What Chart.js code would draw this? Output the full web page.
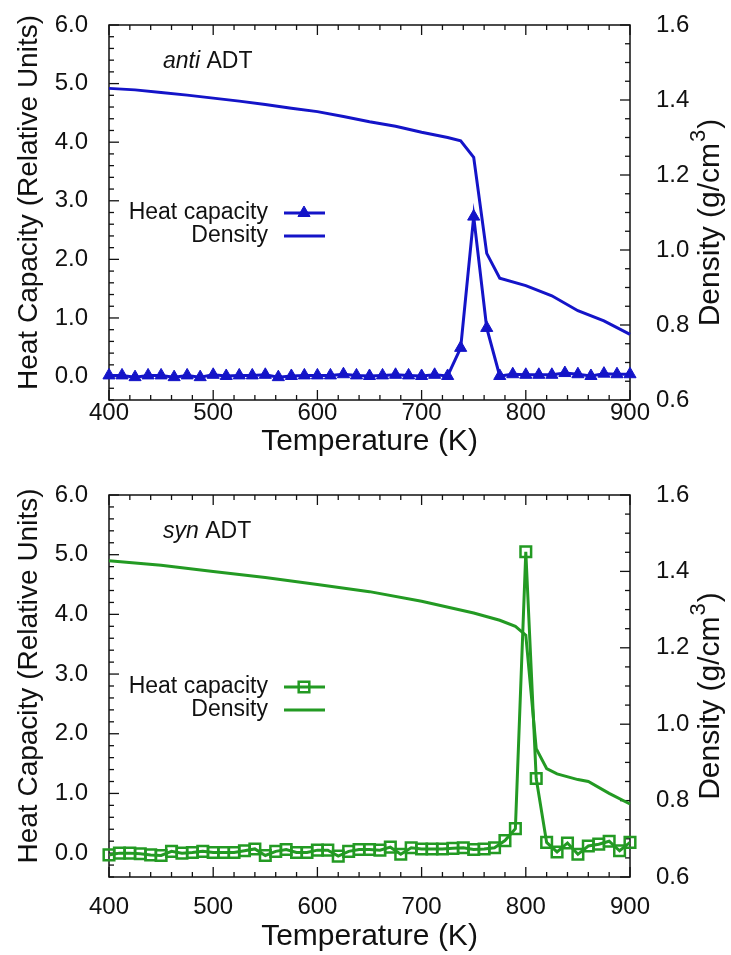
<!DOCTYPE html>
<html>
<head>
<meta charset="utf-8">
<script src="https://cdn.jsdelivr.net/npm/chart.js@4.4.1/dist/chart.umd.min.js"></script>
<style>
  html, body { margin: 0; padding: 0; background: #fff; }
  .panel { position: relative; width: 731px; }
</style>
</head>
<body>
<div class="panel" style="height:470px"><canvas id="chartAnti"></canvas></div>
<div class="panel" style="height:485px"><canvas id="chartSyn"></canvas></div>
<script>
// axis ticks
const tempTicks = [400, 500, 600, 700, 800, 900];
const heatTicks = [0, 1, 2, 3, 4, 5, 6];
const densityTicks = [0.6, 0.8, 1.0, 1.2, 1.4, 1.6];

// anti ADT
const antiTemps = [400, 412.5, 425, 437.5, 450, 462.5, 475, 487.5, 500, 512.5, 525, 537.5, 550, 562.5,
    575, 587.5, 600, 612.5, 625, 637.5, 650, 662.5, 675, 687.5, 700, 712.5, 725, 737.5, 750, 762.5,
    775, 787.5, 800, 812.5, 825, 837.5, 850, 862.5, 875, 887.5, 900];
const antiHeat = [0.02, 0.02, -0.01, 0.02, 0.02, -0.01, 0.02, -0.01, 0.03, 0.01, 0.02, 0.02, 0.03, -0.01,
    0.01, 0.02, 0.02, 0.02, 0.04, 0.02, 0.01, 0.02, 0.03, 0.02, 0.01, 0.03, 0.01, 0.49, 2.73, 0.83,
    0.01, 0.04, 0.03, 0.03, 0.03, 0.06, 0.04, 0.01, 0.05, 0.04, 0.04];
const antiDensTemps = [400, 425, 450, 475, 500, 525, 550, 575, 600, 625, 650, 675, 700, 725, 737.5,
    750, 762.5, 775, 800, 825, 850, 875, 900];
const antiDensity = [1.431, 1.427, 1.420, 1.413, 1.405, 1.397, 1.388, 1.378, 1.369, 1.356, 1.342, 1.330,
    1.314, 1.300, 1.291, 1.247, 0.991, 0.925, 0.905, 0.878, 0.838, 0.811, 0.775];

// syn ADT
const synTemps = [400, 410, 420, 430, 440, 450, 460, 470, 480, 490, 500, 510, 520, 530, 540, 550, 560,
    570, 580, 590, 600, 610, 620, 630, 640, 650, 660, 670, 680, 690, 700, 710, 720, 730, 740, 750, 760,
    770, 780, 790, 800, 810, 820, 830, 840, 850, 860, 870, 880, 890, 900];
const synHeat = [-0.03, 0.0, 0.0, -0.01, -0.03, -0.04, 0.03, 0.0, 0.01, 0.03, 0.01, 0.01, 0.01, 0.04,
    0.07, -0.04, 0.03, 0.06, 0.01, 0.01, 0.05, 0.05, -0.05, 0.03, 0.06, 0.06, 0.05, 0.10, -0.02, 0.09,
    0.07, 0.07, 0.07, 0.08, 0.09, 0.06, 0.07, 0.09, 0.21, 0.41, 5.05, 1.25, 0.18, 0.02, 0.17, -0.02,
    0.12, 0.15, 0.20, 0.04, 0.18];
const synDensTemps = [400, 450, 500, 550, 600, 650, 700, 750, 775, 790, 800, 810, 820, 830, 850, 860, 880, 900];
const synDensity = [1.428, 1.416, 1.400, 1.384, 1.366, 1.347, 1.322, 1.291, 1.272, 1.256, 1.233, 0.936,
    0.884, 0.870, 0.855, 0.850, 0.819, 0.791];

const FONT = '"Liberation Sans", Arial, Helvetica, sans-serif';
const INK = '#111';
const BLUE = '#1414c8';
const GREEN = '#239a23';

const pairs = (xs, ys) => xs.map((x, i) => ({x: x, y: ys[i]}));

// gnuplot-like frame with inward ticks on all sides
const frameTicks = {
    id: 'frameTicks',
    beforeDatasetsDraw(chart) {
        const {ctx, chartArea: a, scales} = chart;
        ctx.save();
        ctx.strokeStyle = INK;
        ctx.lineWidth = 1.5;
        ctx.strokeRect(a.left, a.top, a.right - a.left, a.bottom - a.top);
        ctx.lineWidth = 1.3;
        const line = (x1, y1, x2, y2) => {
            ctx.beginPath(); ctx.moveTo(x1, y1); ctx.lineTo(x2, y2); ctx.stroke();
        };
        for (let t = 400; t <= 900; t += 20) {
            const x = scales.x.getPixelForValue(t);
            const len = t % 100 === 0 ? 10 : 5;
            line(x, a.bottom, x, a.bottom - len);
            line(x, a.top, x, a.top + len);
        }
        for (let i = -2; i <= 30; i++) {
            const y = scales.yHeat.getPixelForValue(i / 5);
            line(a.left, y, a.left + (i % 5 === 0 ? 10 : 5), y);
        }
        for (let i = 12; i <= 32; i++) {
            const y = scales.yDen.getPixelForValue(i / 20);
            line(a.right, y, a.right - (i % 4 === 0 ? 10 : 5), y);
        }
        ctx.restore();
    },
    // both y titles read bottom-to-top, as in the original
    afterDraw(chart) {
        const {ctx, chartArea: a} = chart;
        const cy = (a.top + a.bottom) / 2;
        ctx.save();
        ctx.fillStyle = INK;
        ctx.textBaseline = 'middle';

        ctx.save();
        ctx.translate(29, cy - 10);
        ctx.rotate(-Math.PI / 2);
        ctx.textAlign = 'center';
        ctx.font = '28px ' + FONT;
        ctx.fillText('Heat Capacity (Relative Units)', 0, 0);
        ctx.restore();

        ctx.save();
        ctx.translate(711, cy + 11);
        ctx.rotate(-Math.PI / 2);
        ctx.textAlign = 'left';
        ctx.font = '30px ' + FONT;
        const w1 = ctx.measureText('Density (g/cm').width;
        const w3 = ctx.measureText(')').width;
        ctx.font = '22px ' + FONT;
        const w2 = ctx.measureText('3').width;
        let x0 = -(w1 + w2 + w3) / 2;
        ctx.font = '30px ' + FONT;
        ctx.fillText('Density (g/cm', x0, 0);
        ctx.font = '22px ' + FONT;
        ctx.fillText('3', x0 + w1 + 1, -12);
        ctx.font = '30px ' + FONT;
        ctx.fillText(')', x0 + w1 + w2 + 2, 0);
        ctx.restore();

        ctx.restore();
    }
};

// legend drawn inside the plot, text right-aligned with sample to the right
const sideLegend = {
    id: 'sideLegend',
    afterDatasetsDraw(chart, args, opts) {
        const {ctx} = chart;
        ctx.save();
        ctx.font = '23px ' + FONT;
        ctx.textAlign = 'right';
        ctx.textBaseline = 'middle';
        chart.data.datasets.forEach((ds, i) => {
            const y = opts.y + i * opts.rowGap;
            ctx.fillStyle = INK;
            ctx.fillText(ds.label, opts.x, y);
            ctx.strokeStyle = ds.borderColor;
            ctx.lineWidth = ds.borderWidth;
            ctx.beginPath();
            ctx.moveTo(opts.x + 16, y);
            ctx.lineTo(opts.x + 57, y);
            ctx.stroke();
            if (ds.pointRadius > 0) {
                ctx.fillStyle = ds.pointBackgroundColor;
                ctx.strokeStyle = ds.borderColor;
                ctx.lineWidth = ds.pointBorderWidth;
                Chart.helpers.drawPoint(ctx, {
                    pointStyle: ds.pointStyle, radius: ds.pointRadius,
                    borderWidth: ds.pointBorderWidth, rotation: 0
                }, opts.x + 36, y);
            }
        });
        // sample name, first word in italics
        ctx.textAlign = 'left';
        ctx.fillStyle = INK;
        ctx.font = 'italic 23px ' + FONT;
        ctx.fillText(opts.tag, opts.tagX, opts.tagY);
        const w = ctx.measureText(opts.tag).width;
        ctx.font = '23px ' + FONT;
        ctx.fillText(' ADT', opts.tagX + w, opts.tagY);
        ctx.restore();
    }
};

function makeChart(id, temps, heat, densTemps, dens, color, marker, layout) {
    return new Chart(document.getElementById(id), {
        type: 'line',
        data: {
            datasets: [{
                label: 'Heat capacity',
                data: pairs(temps, heat),
                yAxisID: 'yHeat',
                borderColor: color,
                borderWidth: 3,
                pointStyle: marker.style,
                pointRadius: marker.radius,
                pointBorderWidth: marker.borderWidth,
                pointBackgroundColor: marker.fill,
                pointBorderColor: color,
                tension: 0,
                clip: false
            }, {
                label: 'Density',
                data: pairs(densTemps, dens),
                yAxisID: 'yDen',
                borderColor: color,
                borderWidth: 3,
                pointRadius: 0,
                tension: 0,
                clip: false
            }]
        },
        plugins: [frameTicks, sideLegend],
        options: {
            animation: false,
            responsive: true,
            maintainAspectRatio: false,
            events: [],
            layout: {padding: {top: layout.top, left: 0, right: 0, bottom: 0}},
            plugins: {
                legend: {display: false},
                tooltip: {enabled: false},
                sideLegend: {x: 268, y: layout.legendY, rowGap: 23, tag: layout.tag, tagX: 163, tagY: layout.tagY}
            },
            scales: {
                x: {
                    type: 'linear',
                    min: 400,
                    max: 900,
                    grid: {display: false},
                    border: {display: false},
                    afterBuildTicks: s => { s.ticks = tempTicks.map(v => ({value: v})); },
                    afterFit: s => { s.height = layout.xHeight; s.paddingLeft = 0; s.paddingRight = 0; },
                    ticks: {
                        autoSkip: false, maxRotation: 0, padding: layout.xTickPad,
                        color: INK, font: {family: FONT, size: 24}
                    },
                    title: {
                        display: true, text: 'Temperature (K)', color: INK,
                        font: {family: FONT, size: 30}, padding: {top: 0, bottom: layout.xTitlePad}
                    }
                },
                yHeat: {
                    position: 'left',
                    min: -0.4,
                    max: 6.0,
                    grid: {display: false},
                    border: {display: false},
                    afterBuildTicks: s => { s.ticks = heatTicks.map(v => ({value: v})); },
                    afterFit: s => { s.width = 109; s.paddingTop = 0; s.paddingBottom = 0; },
                    ticks: {
                        padding: 13, color: INK, font: {family: FONT, size: 24},
                        callback: v => v.toFixed(1)
                    }
                },
                yDen: {
                    position: 'right',
                    min: 0.6,
                    max: 1.6,
                    grid: {display: false},
                    border: {display: false},
                    afterBuildTicks: s => { s.ticks = densityTicks.map(v => ({value: v})); },
                    afterFit: s => { s.width = 101; s.paddingTop = 0; s.paddingBottom = 0; },
                    ticks: {
                        padding: 18, color: INK, font: {family: FONT, size: 24},
                        callback: v => v.toFixed(1)
                    }
                }
            }
        }
    });
}

makeChart('chartAnti', antiTemps, antiHeat, antiDensTemps, antiDensity, BLUE,
    {style: 'triangle', radius: 7, borderWidth: 1, fill: BLUE},
    {top: 25, xHeight: 70, xTickPad: -9, xTitlePad: 10, legendY: 213, tag: 'anti', tagY: 62});

makeChart('chartSyn', synTemps, synHeat, synDensTemps, synDensity, GREEN,
    {style: 'rect', radius: 7.5, borderWidth: 2.5, fill: 'rgba(255,255,255,0)'},
    {top: 25, xHeight: 78, xTickPad: 8, xTitlePad: 0, legendY: 217, tag: 'syn', tagY: 62});
</script>
</body>
</html>
